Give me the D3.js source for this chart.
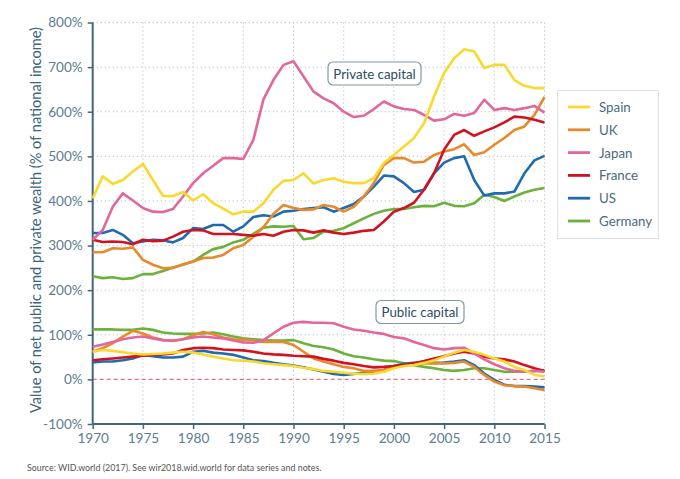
<!DOCTYPE html>
<html><head><meta charset="utf-8">
<script src="https://cdn.jsdelivr.net/npm/d3@7"></script>
<style>body{margin:0;background:#fff;}svg{display:block;font-family:Lato,"Open Sans",sans-serif;}</style>
</head><body>
<svg id="c" width="680" height="479"></svg>
<script>
const years = d3.range(1970, 2016);
const countries = ["Spain","UK","Japan","France","US","Germany"];
const colors = ["#f9d92e","#e8892c","#e2679d","#d3121f","#1f6bb0","#6ab23c"];
const yTicks = [-100,0,100,200,300,400,500,600,700,800];
const xTicks = [1970,1975,1980,1985,1990,1995,2000,2005,2010,2015];

const spainPrivate = [406,455,438,447,466,483,447,411,411,420, 401,415,395,383,370,376,376,395,425,445, 447,462,439,447,451,443,440,440,451,485, 503,522,541,574,634,687,720,740,735,698, 705,705,671,658,653,653];
const ukPrivate = [285,285,294,293,296,268,257,249,250,258, 264,272,273,279,294,301,320,341,371,391, 384,380,381,391,387,376,387,410,440,481, 496,496,486,488,503,511,516,527,503,509, 526,541,559,567,593,633];
const japanPrivate = [313,335,387,417,401,384,376,375,382,410, 440,462,479,496,496,494,537,627,671,705, 713,679,645,630,619,600,588,591,606,623, 612,606,604,593,580,583,595,591,597,627, 604,608,604,608,613,598];
const francePrivate = [313,308,309,308,303,313,310,311,320,331, 335,334,326,326,326,324,322,326,322,331, 335,334,329,334,329,326,329,333,335,354, 376,384,396,425,462,515,548,559,546,556, 565,576,589,587,582,576];
const usPrivate = [328,328,335,324,305,309,313,312,307,317, 339,337,346,346,331,343,364,368,365,376, 378,382,384,386,376,384,393,410,432,457, 455,440,420,425,462,486,496,500,447,412, 417,417,421,462,491,501];
const germanyPrivate = [231,227,229,225,227,236,236,243,251,257, 264,279,292,297,307,313,326,340,343,342, 344,314,317,331,333,339,350,361,371,378, 382,382,386,389,388,396,389,388,395,414, 409,400,410,419,425,429];

const spainPublic = [62,66,64,61,58,56,57,58,60,62, 60,56,51,47,43,42,40,36,34,32, 30,26,23,19,17,15,13,12,13,17, 25,30,32,37,43,51,60,66,62,55, 47,40,28,21,10,7];
const ukPublic = [62,70,81,96,109,103,94,88,86,90, 99,106,101,94,90,89,87,84,84,84, 77,62,47,40,34,28,25,19,19,21, 28,30,34,36,36,36,37,40,28,10, -5,-13,-15,-16,-20,-24];
const japanPublic = [73,78,84,90,94,96,92,88,87,90, 94,96,94,92,87,83,82,88,103,118, 127,129,127,127,126,118,112,109,105,102, 95,92,84,77,70,67,70,71,58,45, 34,25,19,17,19,17];
const francePublic = [43,45,47,49,51,53,55,56,58,66, 70,71,70,67,66,65,62,58,56,55, 53,52,51,46,42,37,34,30,27,28, 30,33,36,41,47,52,58,62,58,51, 47,45,40,32,25,19];
const usPublic = [38,40,40,43,47,55,52,49,49,51, 62,64,60,58,55,49,43,41,37,34, 31,27,22,17,12,10,12,15,17,21, 30,35,37,38,37,38,40,43,32,13, -1,-12,-15,-15,-16,-18];
const germanyPublic = [112,112,112,111,111,114,111,105,103,102, 102,103,105,101,96,92,90,88,87,87, 88,81,75,72,67,58,52,49,45,42, 41,36,32,28,25,21,19,21,25,25, 21,17,17,17,19,21];

const privateSeries = [spainPrivate, ukPrivate, japanPrivate, francePrivate, usPrivate, germanyPrivate];
const publicSeries = [spainPublic, ukPublic, japanPublic, francePublic, usPublic, germanyPublic];

const svg = d3.select("#c");
const x = d3.scaleLinear().domain([1970,2015]).range([92.7,544.5]);
const y = d3.scaleLinear().domain([-100,800]).range([424,22.5]);
const axisColor = "#44657c";
const tickColor = "#5d7c92";

// grid
svg.append("g").selectAll("line").data(yTicks.filter(d=>d>0)).join("line")
  .attr("x1", x(1970)).attr("x2", x(2015)).attr("y1", d=>y(d)).attr("y2", d=>y(d))
  .attr("stroke","#b9c0c6").attr("stroke-width",1).attr("stroke-dasharray","1.2,2.8");
svg.append("g").selectAll("line").data(xTicks.filter(d=>d>1970)).join("line")
  .attr("x1", d=>x(d)).attr("x2", d=>x(d)).attr("y1", y(800)).attr("y2", y(-100))
  .attr("stroke","#b9c0c6").attr("stroke-width",1).attr("stroke-dasharray","1.2,2.8");
svg.append("line").attr("x1", x(1970)).attr("x2", x(2015)).attr("y1", y(0)).attr("y2", y(0))
  .attr("stroke","#ea6f8a").attr("stroke-width",1.1).attr("stroke-dasharray","4,3");

// axes
const yAxis = d3.axisLeft(y).tickValues(yTicks).tickFormat(d=>d+"%").tickSize(5).tickPadding(5);
const gy = svg.append("g").attr("transform",`translate(${x(1970)},0)`).call(yAxis);
const xAxis = d3.axisBottom(x).tickValues(xTicks).tickFormat(d3.format("d")).tickSize(5).tickPadding(4);
const gx = svg.append("g").attr("transform",`translate(0,${y(-100)})`).call(xAxis);
[gy,gx].forEach(g=>{
  g.select(".domain").attr("stroke",axisColor).attr("stroke-width",2);
  g.selectAll(".tick line").attr("stroke",axisColor).attr("stroke-width",1.5);
  g.selectAll(".tick text").attr("fill",tickColor).attr("font-size",13.6).attr("font-family","Lato, sans-serif");
});
gy.select(".domain").attr("d",`M0,${y(800)}V${y(-100)}`);
gx.select(".domain").attr("d",`M${x(1970)},0H${x(2015)}`);

// lines
const line = d3.line().x((d,i)=>x(years[i])).y(d=>y(d));
const order = [5,4,1,3,2,0];
order.forEach(i=>{
  svg.append("path").datum(publicSeries[i]).attr("d",line)
    .attr("fill","none").attr("stroke",colors[i]).attr("stroke-width",2.6).attr("stroke-linejoin","round");
});
order.forEach(i=>{
  svg.append("path").datum(privateSeries[i]).attr("d",line)
    .attr("fill","none").attr("stroke",colors[i]).attr("stroke-width",2.6).attr("stroke-linejoin","round");
});

// label boxes
function labelBox(text, cx, cy, w){
  const g = svg.append("g");
  g.append("rect").attr("x",cx-w/2).attr("y",cy-11.5).attr("width",w).attr("height",23).attr("rx",5)
    .attr("fill","#fff").attr("stroke","#7f98aa").attr("stroke-width",1.2);
  g.append("text").attr("x",cx).attr("y",cy).attr("text-anchor","middle").attr("dominant-baseline","central")
    .attr("fill","#2b4d64").attr("font-size",13.3).text(text);
}
labelBox("Private capital", 374.5, 73.5, 93);
labelBox("Public capital", 420, 312, 88);

// legend
const lg = svg.append("g");
lg.append("rect").attr("x",557.5).attr("y",90.5).attr("width",101).attr("height",148)
  .attr("fill","#fff").attr("stroke","#dde1e4").attr("stroke-width",1);
countries.forEach((c,i)=>{
  const yy = 107 + i*22.8;
  lg.append("line").attr("x1",568).attr("x2",590).attr("y1",yy).attr("y2",yy)
    .attr("stroke",colors[i]).attr("stroke-width",2.8);
  lg.append("text").attr("x",599).attr("y",yy).attr("dominant-baseline","central")
    .attr("fill","#4b6a80").attr("font-size",13.3).text(c);
});

// y title
svg.append("text").attr("transform","translate(35,220) rotate(-90)").attr("text-anchor","middle")
  .attr("dominant-baseline","central").attr("fill","#3b6580").attr("font-size",14.6)
  .text("Value of net public and private wealth (% of national income)");

// source
svg.append("text").attr("x",27).attr("y",471).attr("fill","#555").attr("font-size",8.9)
  .text("Source: WID.world (2017). See wir2018.wid.world for data series and notes.");
</script>
</body></html>
